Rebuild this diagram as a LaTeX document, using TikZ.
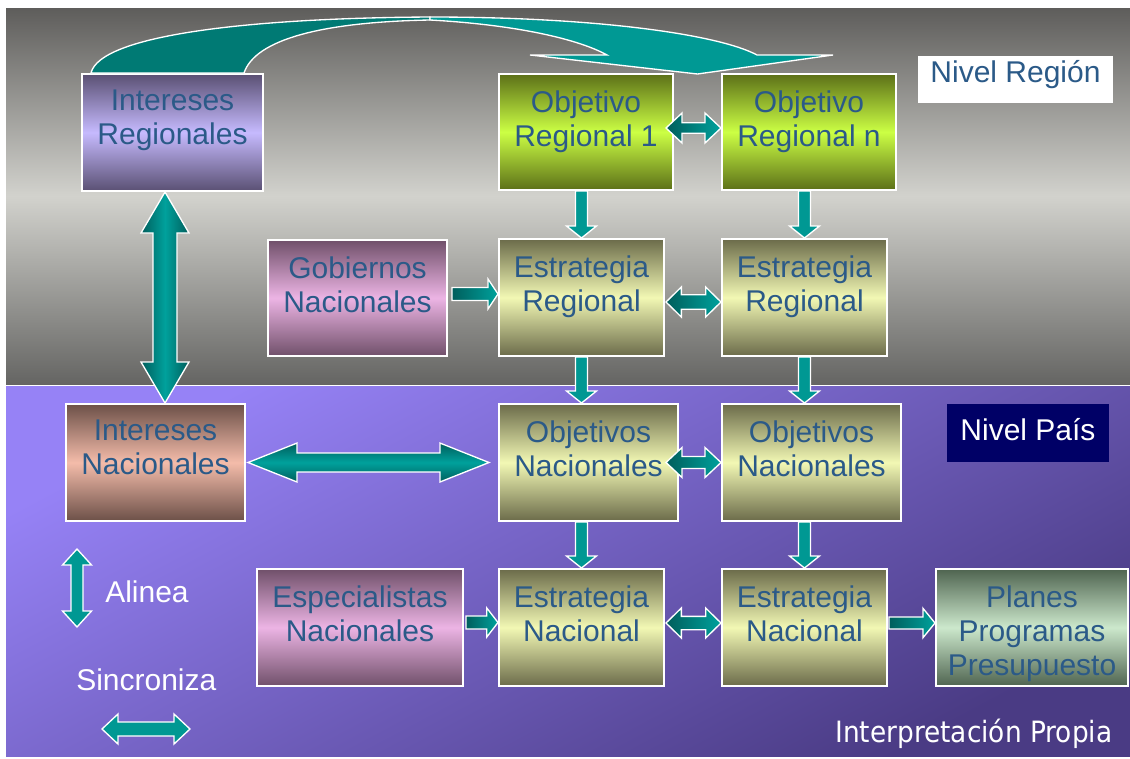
\documentclass[tikz,border=0pt]{standalone}
\usepackage{fontspec}
\setmainfont{Liberation Sans}
\newfontfamily\tahfont[FakeStretch=0.9]{DejaVu Sans}
\usetikzlibrary{calc}
\definecolor{txt}{HTML}{2B5A88}
\definecolor{bgtop}{HTML}{5E5D5B}
\definecolor{bgmid}{HTML}{D2D2CD}
\definecolor{bgbot}{HTML}{656563}
\definecolor{puA}{HTML}{9682F6}
\definecolor{puB}{HTML}{4A3B84}
\definecolor{tealD}{HTML}{005E5C}
\definecolor{tealL}{HTML}{00A19C}
\definecolor{tealM}{HTML}{009893}
\definecolor{curvD}{HTML}{007A74}
\definecolor{curvL}{HTML}{009994}
\definecolor{irD}{HTML}{5A5073}\definecolor{irL}{HTML}{C6BAFE}
\definecolor{orD}{HTML}{5C7018}\definecolor{orL}{HTML}{CCFF44}
\definecolor{esD}{HTML}{6B6B4A}\definecolor{esL}{HTML}{F2F8B4}
\definecolor{gnD}{HTML}{70506A}\definecolor{gnL}{HTML}{ECB4E4}
\definecolor{inD}{HTML}{6C5048}\definecolor{inL}{HTML}{F4BCAA}
\definecolor{plD}{HTML}{4F6450}\definecolor{plL}{HTML}{CCE8CC}
\definecolor{navy}{HTML}{000066}
\tikzset{
  boxshape/.style={draw=white, line width=1.5pt, rectangle, inner sep=0pt},
  boxtext/.style={text=txt, align=center, inner sep=0pt, anchor=north,
    font=\fontsize{22.5pt}{25.5pt}\selectfont},
  legendtext/.style={text=white, inner sep=0pt, anchor=base west,
    font=\fontsize{22.5pt}{25.5pt}\selectfont},
  arrowbase/.style={draw=white, line width=1pt, line join=miter},
  hgrad/.style={left color=tealD, right color=tealL},
  vgrad/.style={left color=tealD, right color=tealD, middle color=tealL},
  tbgrad/.style={top color=tealD, bottom color=tealD, middle color=tealL},
  flat/.style={fill=tealM}
}
% box: name, x1, y1, x2, y2, dark, light, text
\newcommand\MyBox[8]{%
  \node[boxshape, top color=#6, bottom color=#6, middle color=#7,
        minimum width={(#4-#2)*0.75pt}, minimum height={(#5-#3)*0.75pt}]
        (#1) at ({(#2+#4)/2},{(#3+#5)/2}) {};
  \node[boxtext] (#1-t) at ([yshift=-12.8pt]#1.north) {#8};}
% right arrow: [opt]{from}{to}{shaft half}{head half}{head len}
\newcommand\RArrow[6][]{\path[arrowbase,#1] let \p1=(#2),\p2=(#3) in
  (\x1,\y1+#4) -- (\x2-#6,\y1+#4) -- (\x2-#6,\y1+#5) -- (\x2,\y1)
  -- (\x2-#6,\y1-#5) -- (\x2-#6,\y1-#4) -- (\x1,\y1-#4) -- cycle;}
% horizontal double arrow
\newcommand\HDArrow[6][]{\path[arrowbase,#1] let \p1=(#2),\p2=(#3) in
  (\x1,\y1) -- (\x1+#6,\y1+#5) -- (\x1+#6,\y1+#4) -- (\x2-#6,\y1+#4)
  -- (\x2-#6,\y1+#5) -- (\x2,\y1) -- (\x2-#6,\y1-#5) -- (\x2-#6,\y1-#4)
  -- (\x1+#6,\y1-#4) -- (\x1+#6,\y1-#5) -- cycle;}
% down arrow
\newcommand\DArrow[6][]{\path[arrowbase,#1] let \p1=(#2),\p2=(#3) in
  (\x1-#4,\y1) -- (\x1-#4,\y2+#6) -- (\x1-#5,\y2+#6) -- (\x1,\y2)
  -- (\x1+#5,\y2+#6) -- (\x1+#4,\y2+#6) -- (\x1+#4,\y1) -- cycle;}
% vertical double arrow (from top to bottom)
\newcommand\VDArrow[6][]{\path[arrowbase,#1] let \p1=(#2),\p2=(#3) in
  (\x1,\y1) -- (\x1+#5,\y1-#6) -- (\x1+#4,\y1-#6) -- (\x1+#4,\y2+#6)
  -- (\x1+#5,\y2+#6) -- (\x1,\y2) -- (\x1-#5,\y2+#6) -- (\x1-#4,\y2+#6)
  -- (\x1-#4,\y1-#6) -- (\x1-#5,\y1-#6) -- cycle;}
\begin{document}
\begin{tikzpicture}[x=0.75pt,y=-0.75pt]
\useasboundingbox (0,0) rectangle (1130,758);
\fill[white] (0,0) rectangle (1130,758);
% backgrounds
\shade[top color=bgtop, bottom color=bgbot, middle color=bgmid] (6,8) rectangle (1130,384);
\shade[top color=puA, bottom color=puB, shading angle=28] (6,386) rectangle (1130,756);

% boxes
\MyBox{ir}{82}{74}{263}{191}{irD}{irL}{Intereses\\Regionales}
\MyBox{or1}{499}{74}{673}{190}{orD}{orL}{Objetivo\\Regional 1}
\MyBox{orn}{722}{74}{896}{190}{orD}{orL}{Objetivo\\Regional n}
\MyBox{gn}{268}{240}{447}{356}{gnD}{gnL}{Gobiernos\\Nacionales}
\MyBox{er1}{499}{239}{664}{356}{esD}{esL}{Estrategia\\Regional}
\MyBox{er2}{722}{239}{887}{356}{esD}{esL}{Estrategia\\Regional}
\MyBox{in}{66}{404}{245}{521}{inD}{inL}{Intereses\\Nacionales}
\MyBox{on1}{499}{404}{678}{521}{esD}{esL}{Objetivos\\Nacionales}
\MyBox{on2}{722}{404}{901}{521}{esD}{esL}{Objetivos\\Nacionales}
\MyBox{es}{257}{569}{463}{686}{gnD}{gnL}{Especialistas\\Nacionales}
\MyBox{en1}{499}{569}{664}{686}{esD}{esL}{Estrategia\\Nacional}
\MyBox{en2}{722}{569}{887}{686}{esD}{esL}{Estrategia\\Nacional}
\MyBox{pl}{936}{569}{1128}{686}{plD}{plL}{Planes\\Programas\\Presupuesto}

% level labels
\node[fill=white, minimum width={195*0.75pt}, minimum height={47*0.75pt}, inner sep=0pt] (nr) at (1015.5,79.5) {};
\node[text=txt, inner sep=0pt, anchor=base, font=\fontsize{22.5pt}{25.5pt}\selectfont] (nrt) at (1015.5,82) {Nivel Región};
\node[fill=navy, minimum width={162*0.75pt}, minimum height={58*0.75pt}, inner sep=0pt] (np) at (1028,433) {};
\node[text=white, inner sep=0pt, anchor=base, font=\fontsize{22.5pt}{25.5pt}\selectfont] (npt) at (1028,440) {Nivel País};

% curved top arrow
\coordinate (cb1) at ($(ir.north west)+(10,0)$);
\coordinate (cb2) at ($(ir.north east)+(-20,0)$);
\coordinate (ctip) at ($(or1.north east)!0.5!(orn.north west)+(0,1)$);
\path[fill=curvD, draw=white, line width=1pt]
  (cb1) .. controls (100,35) and (250,18) .. (430,17)
  -- (430,20) .. controls (320,22) and (255,40) .. (cb2) -- cycle;
\path[fill=curvL, draw=white, line width=1pt, line join=miter]
  (430,17) .. controls (600,17) and (720,35) .. (757,55)
  -- (833,55) -- (ctip) -- (530,55) -- (607,55)
  .. controls (580,40) and (520,25) .. (430,20) -- cycle;

% vertical connectors
\coordinate (vx) at (165,0);
\VDArrow[vgrad]{ir.south -| vx}{in.north -| vx}{9pt}{18pt}{30.75pt}
\DArrow[flat]{or1.south -| er1.south}{er1.north}{4.5pt}{11.25pt}{9pt}
\DArrow[flat]{orn.south -| er2.south}{er2.north}{4.5pt}{11.25pt}{9pt}
\DArrow[flat]{er1.south}{on1.north -| er1.south}{4.5pt}{11.25pt}{9pt}
\DArrow[flat]{er2.south}{on2.north -| er2.south}{4.5pt}{11.25pt}{9pt}
\DArrow[flat]{on1.south -| er1.south}{en1.north}{4.5pt}{11.25pt}{9pt}
\DArrow[flat]{on2.south -| er2.south}{en2.north}{4.5pt}{11.25pt}{9pt}

% horizontal connectors
\HDArrow[hgrad]{$(or1.east)+(-8,-4)$}{orn.west}{3.9pt}{11.25pt}{12pt}
\HDArrow[hgrad]{$(er1.east)+(1,4.5)$}{er2.west}{5.4pt}{11.25pt}{11.5pt}
\HDArrow[hgrad]{$(on1.east)+(-13,0)$}{on2.west}{4.5pt}{11.25pt}{12pt}
\HDArrow[hgrad]{$(en1.east)+(1,-4.5)$}{en2.west}{5pt}{11.25pt}{11.5pt}
\HDArrow[tbgrad]{$(in.east)+(2,0)$}{$(on1.west)+(-9,0)$}{7.1pt}{14.6pt}{36.75pt}
\RArrow[hgrad]{$(gn.east)+(4,-4)$}{er1.west}{4.9pt}{11.25pt}{7.5pt}
\RArrow[hgrad]{$(es.east)+(2,-5)$}{en1.west}{4.9pt}{11pt}{8.5pt}
\RArrow[hgrad]{$(en2.east)+(1,-4.5)$}{pl.west}{4.5pt}{11pt}{9pt}

% legend
\coordinate (la1) at (77,549);
\coordinate (la2) at (77,627);
\coordinate (ls1) at (102,729);
\coordinate (ls2) at (190,729);
\VDArrow[flat]{la1}{la2}{4.5pt}{10.9pt}{12pt}
\HDArrow[flat]{ls1}{ls2}{5.25pt}{11.25pt}{12pt}
\node[legendtext] (alinea) at (105,602) {Alinea};
\node[legendtext] (sinc) at (76,690) {Sincroniza};
\node[text=white, inner sep=0pt, anchor=base west, font=\tahfont\fontsize{22pt}{26pt}\selectfont] (interp) at (835,742) {Interpretación Propia};
\end{tikzpicture}
\end{document}
